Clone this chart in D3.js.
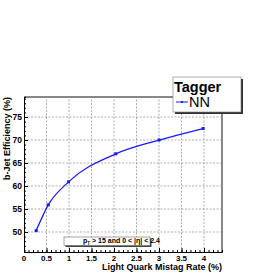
<!DOCTYPE html>
<html>
<head>
<meta charset="utf-8">
<script src="https://d3js.org/d3.v7.min.js"></script>
<style>
  body { margin: 0; background: #fff; }
  svg { display: block; font-family: "Liberation Sans", Arial, sans-serif; }
</style>
</head>
<body>
<div id="chart"></div>
<script>
var mistag = [0.27, 0.54, 0.99, 2.04, 3.0, 3.98];
var efficiency = [50.3, 55.9, 60.9, 67.0, 70.0, 72.5];
var xTicks = [0, 0.5, 1, 1.5, 2, 2.5, 3, 3.5, 4];
var yTicks = [50, 55, 60, 65, 70, 75];
var seriesName = "NN";
var legendTitle = "Tagger";

var width = 266, height = 273;
var margin = {top: 97, right: 44, bottom: 21, left: 24};

var x = d3.scaleLinear().domain([0, 4.4]).range([margin.left, width - margin.right]);
var y = d3.scaleLinear().domain([45.65, 79.35]).range([height - margin.bottom, margin.top]);

var svg = d3.select("#chart").append("svg")
    .attr("width", width)
    .attr("height", height);

// grid
var grid = svg.append("g")
    .attr("stroke", "#999")
    .attr("stroke-width", 0.8)
    .attr("stroke-dasharray", "2,1.5");
grid.selectAll("line.gx").data(xTicks.filter(d => d > 0)).join("line")
    .attr("class", "gx")
    .attr("x1", d => x(d)).attr("x2", d => x(d))
    .attr("y1", y.range()[0]).attr("y2", y.range()[1]);
grid.selectAll("line.gy").data(yTicks).join("line")
    .attr("class", "gy")
    .attr("y1", d => y(d)).attr("y2", d => y(d))
    .attr("x1", x.range()[0]).attr("x2", x.range()[1]);

// frame top / right (grey)
svg.append("path")
    .attr("d", `M${x.range()[0]},${y.range()[1]}H${x.range()[1]}V${y.range()[0]}`)
    .attr("fill", "none")
    .attr("stroke", "#888")
    .attr("stroke-width", 2);

// axes
var yAxis = g => g
    .attr("transform", `translate(${margin.left},0)`)
    .call(d3.axisRight(y).tickValues(d3.range(46, 80, 1)).tickSize(2).tickFormat(""))
    .call(g => g.append("g").call(d3.axisRight(y).tickValues(yTicks).tickSize(4).tickFormat(""))
        .call(g => g.select(".domain").remove()))
    .call(g => g.selectAll("text.lab").data(yTicks).join("text")
        .attr("class", "lab")
        .attr("fill", "#000")
        .attr("x", -2).attr("y", d => y(d)).attr("dy", "0.35em")
        .attr("text-anchor", "end")
        .attr("font-size", 8.5).attr("font-weight", "bold")
        .text(d => d))
    .call(g => g.selectAll("line, .domain").attr("stroke", "#000"));

var xAxis = g => g
    .attr("transform", `translate(0,${height - margin.bottom})`)
    .call(d3.axisTop(x).tickValues(d3.range(0, 45, 1).map(d => d / 10)).tickSize(2).tickFormat(""))
    .call(g => g.append("g").call(d3.axisTop(x).tickValues(xTicks).tickSize(4).tickFormat(""))
        .call(g => g.select(".domain").remove()))
    .call(g => g.selectAll("text.lab").data(xTicks).join("text")
        .attr("class", "lab")
        .attr("fill", "#000")
        .attr("x", d => x(d)).attr("y", 8.5)
        .attr("text-anchor", "middle")
        .attr("font-size", 8).attr("font-weight", "bold")
        .text(d => d))
    .call(g => g.selectAll("line, .domain").attr("stroke", "#000"));

svg.append("g").call(yAxis);
svg.append("g").call(xAxis);

// axis titles
svg.append("text")
    .attr("x", x.range()[1]).attr("y", 269.5)
    .attr("text-anchor", "end")
    .attr("font-size", 9).attr("font-weight", "bold")
    .text("Light Quark Mistag Rate (%)");

svg.append("text")
    .attr("transform", `translate(10,${margin.top}) rotate(-90)`)
    .attr("text-anchor", "end")
    .attr("font-size", 9).attr("font-weight", "bold")
    .text("b-Jet Efficiency (%)");

// curve
var pts = mistag.map((d, i) => [d, efficiency[i]]);
svg.append("path")
    .datum(pts)
    .attr("fill", "none")
    .attr("stroke", "#1a1aff")
    .attr("stroke-width", 1.3)
    .attr("d", d3.line().x(d => x(d[0])).y(d => y(d[1])).curve(d3.curveMonotoneX));

svg.append("g")
    .attr("fill", "#1a1aff")
  .selectAll("rect")
  .data(pts)
  .join("rect")
    .attr("x", d => x(d[0]) - 1.5)
    .attr("y", d => y(d[1]) - 1.5)
    .attr("width", 3).attr("height", 3);

// cut label box
var cut = svg.append("g").attr("transform", "translate(64,237)");
cut.append("rect").attr("x", 1.5).attr("y", 1.5).attr("width", 86).attr("height", 8.5).attr("fill", "#444");
cut.append("rect").attr("width", 86).attr("height", 8.5).attr("fill", "#fff").attr("stroke", "#666").attr("stroke-width", 0.6);
var ct = cut.append("text").attr("x", 19).attr("y", 6.4)
    .attr("font-size", 7).attr("font-weight", "bold");
ct.append("tspan").text("p");
ct.append("tspan").attr("font-size", 4.5).attr("dy", 1.5).text("T");
ct.append("tspan").attr("dy", -1.5).text(" > 15 and  0 < |\u03b7| < 2.4");

// legend
var leg = svg.append("g").attr("transform", "translate(173,77)");
leg.append("rect").attr("x", 2).attr("y", 2).attr("width", 68).attr("height", 35).attr("fill", "#333");
leg.append("rect").attr("width", 68).attr("height", 35).attr("fill", "#fff").attr("stroke", "#777").attr("stroke-width", 0.6);
leg.append("text").attr("x", 1).attr("y", 14.5).attr("font-size", 14.5).attr("font-weight", "bold").text(legendTitle);
leg.append("line").attr("x1", 3).attr("x2", 15).attr("y1", 25).attr("y2", 25)
    .attr("stroke", "#1a1aff").attr("stroke-width", 1);
leg.append("rect").attr("x", 8).attr("y", 24).attr("width", 2).attr("height", 2).attr("fill", "#1a1aff");
leg.append("text").attr("x", 16).attr("y", 30).attr("font-size", 14.5).text(seriesName);
</script>
</body>
</html>
